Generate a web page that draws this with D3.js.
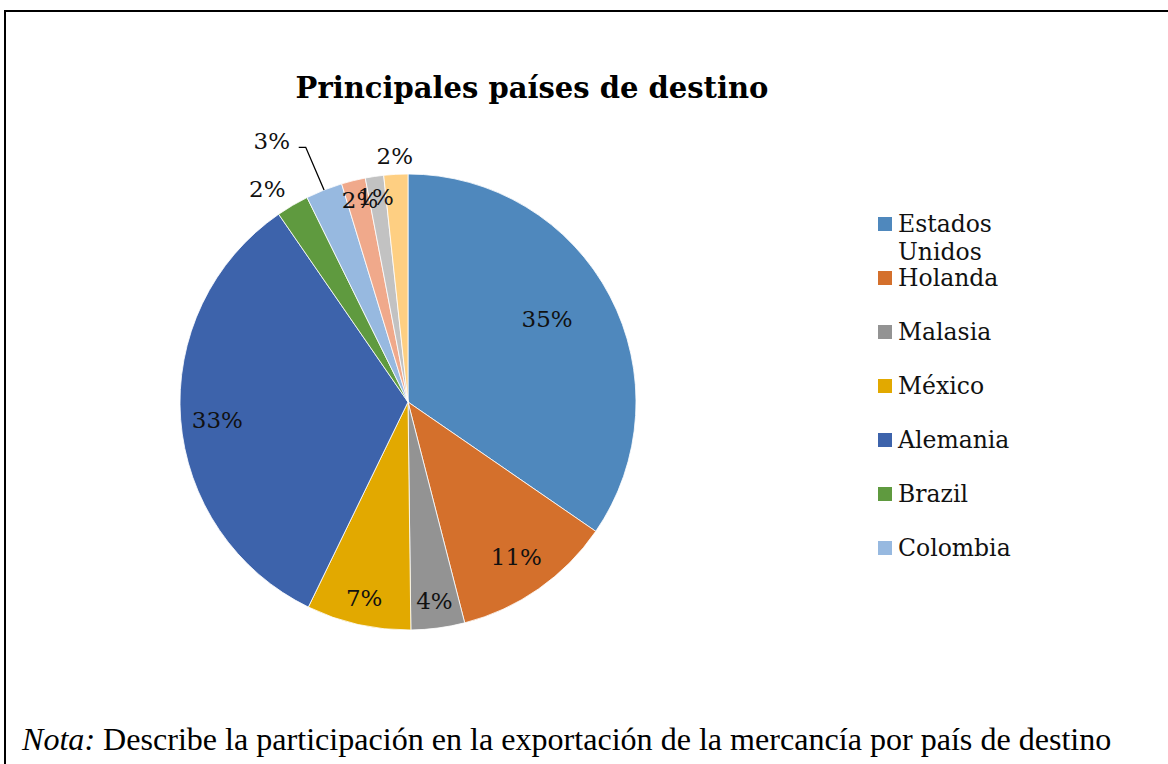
<!DOCTYPE html>
<html>
<head>
<meta charset="utf-8">
<script src="https://cdn.jsdelivr.net/npm/d3@7"></script>
<style>
  html, body { margin: 0; padding: 0; background: #fff; }
  svg { display: block; }
</style>
</head>
<body>
<div id="chart"></div>
<script>
// data
const categories = ['Estados Unidos', 'Holanda', 'Malasia', 'México', 'Alemania', 'Brazil', 'Colombia', 'Otro 1', 'Otro 2', 'Otro 3']
const shares = [34.6, 11.4, 3.8, 7.4, 33.2, 2.3, 2.6, 1.7, 1.3, 1.7]
const colors = ['#4f88bd', '#d4702c', '#939393', '#e2a900', '#3d63ab', '#5f9a3f', '#97b9e0', '#f0a98b', '#c2c2c2', '#fecf82']
const title = 'Principales países de destino'
const legendShown = 7 // legend box only fits the first seven

// layout
const W = 1168
const H = 764
const cx = 408
const cy = 402
const R = 228
const serif = 'DejaVu Serif, Georgia, serif'

// label radius (fraction of R) and angle nudge (deg), best-fit style
const labelPos = [
  { f: 0.71, da: -3 },
  { f: 0.83, da: 0 },
  { f: 0.88, da: 0 },
  { f: 0.88, da: 0 },
  { f: 0.84, da: -1 },
  { f: 1.12, da: -3 },
  { f: 1.29, da: -6, leader: true },
  { f: 0.91, da: 0.5 },
  { f: 0.91, da: -0.5 },
  { f: 1.08, da: 0 },
]

const svg = d3.select('#chart').append('svg').attr('width', W).attr('height', H)

// frame
svg.append('path')
  .attr('d', `M5,${H + 5} V11 H${W + 5}`)
  .attr('fill', 'none')
  .attr('stroke', '#000')
  .attr('stroke-width', 2)

// title
const titleText = svg.append('text')
  .attr('x', 532)
  .attr('y', 98)
  .attr('text-anchor', 'middle')
  .attr('font-family', serif)
  .attr('font-weight', 'bold')
  .attr('font-size', 28)
  .text(title)
fitWidth(titleText, 473)

const pie = d3.pie().value(d => d).sort(null)
const arcs = pie(shares)
const arc = d3.arc().innerRadius(0).outerRadius(R)
const total = d3.sum(shares)
const pct = d3.format('.0%')

const g = svg.append('g').attr('transform', `translate(${cx},${cy})`)

g.selectAll('path.slice')
  .data(arcs)
  .join('path')
  .attr('class', 'slice')
  .attr('d', arc)
  .attr('fill', (d, i) => colors[i])
  .attr('stroke', '#fff')
  .attr('stroke-width', 0.8)

// labels
function labelXY(d, i) {
  const p = labelPos[i]
  const a = (d.startAngle + d.endAngle) / 2 + (p.da * Math.PI) / 180
  const r = R * p.f
  return [r * Math.sin(a), -r * Math.cos(a)]
}

g.selectAll('text.pct')
  .data(arcs)
  .join('text')
  .attr('class', 'pct')
  .attr('x', (d, i) => labelXY(d, i)[0])
  .attr('y', (d, i) => labelXY(d, i)[1])
  .attr('text-anchor', 'middle')
  .attr('dy', '0.35em')
  .attr('font-family', serif)
  .attr('font-size', 23)
  .attr('fill', '#111')
  .text(d => pct(d.value / total))

// leader line for the one label pushed out
arcs.forEach((d, i) => {
  if (!labelPos[i].leader) return
  const [lx, ly] = labelXY(d, i)
  const a = (d.startAngle + d.endAngle) / 2
  const ex = R * Math.sin(a)
  const ey = -R * Math.cos(a)
  g.append('path')
    .attr('d', `M${lx + 27},${ly + 6} H${lx + 34} L${ex},${ey}`)
    .attr('fill', 'none')
    .attr('stroke', '#000')
    .attr('stroke-width', 1.3)
})

// legend
const legend = svg.append('g').attr('transform', 'translate(878, 224)')
const items = legend.selectAll('g.item')
  .data(categories.slice(0, legendShown))
  .join('g')
  .attr('class', 'item')
  .attr('transform', (d, i) => `translate(0, ${i * 54})`)

items.append('rect')
  .attr('x', 0)
  .attr('y', -7)
  .attr('width', 14)
  .attr('height', 14)
  .attr('fill', (d, i) => colors[i])

items.append('text')
  .attr('x', 20)
  .attr('y', 8)
  .attr('font-family', serif)
  .attr('font-size', 23.5)
  .attr('fill', '#111')
  .each(function(d) {
    const words = d.split(' ')
    const t = d3.select(this)
    if (words.length > 1 && d.length > 10) {
      words.forEach((w, k) => {
        t.append('tspan').attr('x', 20).attr('dy', k ? 28 : 0).text(w)
      })
    } else {
      t.text(d)
    }
  })

// note
const note = svg.append('text')
  .attr('x', 22)
  .attr('y', 750)
  .attr('font-family', 'Liberation Serif, Times New Roman, serif')
  .attr('font-size', 27)
  .attr('fill', '#000')
note.append('tspan').attr('font-style', 'italic').text('Nota:')
note.append('tspan').text(' Describe la participación en la exportación de la mercancía por país de destino')
fitWidth(note, 1090)

function fitWidth(sel, target) {
  const node = sel.node()
  const size = parseFloat(sel.attr('font-size'))
  const w = node.getComputedTextLength()
  if (w > 0) sel.attr('font-size', (size * target) / w)
}
</script>
</body>
</html>
